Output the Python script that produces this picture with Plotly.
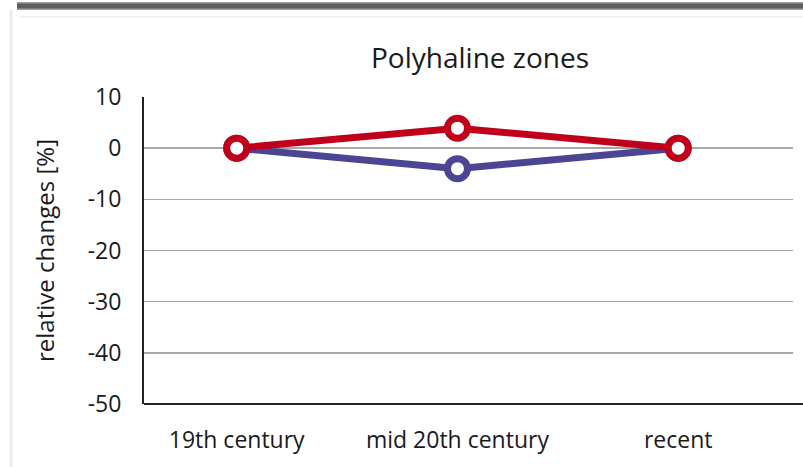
import plotly.graph_objects as go

categories = ["19th century", "mid 20th century", "recent"]
series_red = [0, 3.9, 0]
series_blue = [0, -4.0, 0]
y_ticks = [10, 0, -10, -20, -30, -40, -50]
y_tick_text = ["10", "0", "-10", "-20", "-30", "-40", "-50"]

RED = "#C0001A"
BLUE = "#4B4594"
FONT = "Open Sans, Lato, sans-serif"

L, R, T, B = 144, 10, 97, 63
W, H = 803, 467
pw, ph = W - L - R, H - T - B

def px(x):
    return (x - L) / pw

def py(y):
    return (H - B - y) / ph

fig = go.Figure()
fig.add_trace(go.Scatter(
    x=categories, y=series_blue, mode="lines+markers",
    line=dict(color=BLUE, width=7),
    marker=dict(size=20, color="white", line=dict(color=BLUE, width=7)),
    showlegend=False, cliponaxis=False, hoverinfo="skip"))
fig.add_trace(go.Scatter(
    x=categories, y=series_red, mode="lines+markers",
    line=dict(color=RED, width=7),
    marker=dict(size=20, color="white", line=dict(color=RED, width=7)),
    showlegend=False, cliponaxis=False, hoverinfo="skip"))

shapes = [
    dict(type="rect", xref="paper", yref="paper", x0=px(17), x1=px(806),
         y0=py(10), y1=py(2), fillcolor="#a0a0a0", line=dict(width=0), layer="below"),
    dict(type="rect", xref="paper", yref="paper", x0=px(17), x1=px(806),
         y0=py(8.5), y1=py(3.5), fillcolor="#5e5e5e", line=dict(width=0), layer="below"),
    dict(type="line", xref="paper", yref="paper", x0=px(19), x1=px(806),
         y0=py(17), y1=py(17), line=dict(color="#e2e2e2", width=1)),
    dict(type="line", xref="paper", yref="paper", x0=px(11), x1=px(11),
         y0=py(10), y1=py(470), line=dict(color="#ececec", width=3)),
    dict(type="line", xref="paper", yref="paper", x0=0, x1=px(806),
         y0=0, y1=0, line=dict(color="#222222", width=2)),
]

fig.update_layout(
    width=W, height=H,
    margin=dict(l=L, r=R, t=T, b=B),
    paper_bgcolor="white", plot_bgcolor="white",
    font=dict(family=FONT, color="#1a1a1a"),
    title=dict(text="Polyhaline zones", x=480 / W, xanchor="center",
               y=1 - 58 / H, yanchor="middle",
               font=dict(size=28, family=FONT, color="#1a1a1a")),
    shapes=shapes,
    hovermode=False,
    xaxis=dict(type="category", range=[-0.42, 2.52], showgrid=False,
               showline=False, zeroline=False, ticks="",
               tickfont=dict(size=23, family=FONT),
               ticklabelstandoff=20),
    yaxis=dict(range=[-50, 10], tickvals=y_ticks, ticktext=y_tick_text,
               showgrid=True, gridcolor="#a8a8a8", gridwidth=1.5, zeroline=False,
               showline=True, linecolor="#222222", linewidth=2,
               ticks="", ticklabelstandoff=16,
               tickfont=dict(size=23, family=FONT),
               title=dict(text="relative changes [%]", standoff=26,
                          font=dict(size=24, family=FONT))),
)

fig.write_html("out.html", config={"displayModeBar": False, "staticPlot": True},
               post_script="document.body.style.margin='0';document.body.style.overflow='hidden';")
